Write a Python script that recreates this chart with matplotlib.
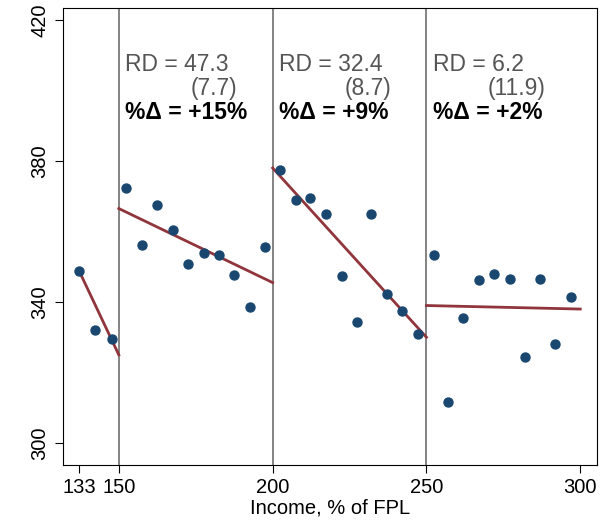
import matplotlib
matplotlib.use("Agg")
import matplotlib.pyplot as plt

plt.rcParams['font.family'] = ['Liberation Sans', 'DejaVu Sans']

xs = [137, 142.2, 147.7,
      152.3, 157.5, 162.3, 167.5, 172.4, 177.6, 182.5, 187.3, 192.5, 197.4,
      202.3, 207.5, 212.3, 217.2, 222.4, 227.3, 232.1, 237.3, 242.2, 247.1,
      252.3, 257.1, 262.0, 267.2, 272.1, 277.0, 282.1, 287.0, 291.9, 297.1]
ys = [348.8, 332.1, 329.5,
      372.3, 356.2, 367.5, 360.4, 350.8, 353.9, 353.3, 347.7, 338.6, 355.6,
      377.4, 368.9, 369.5, 365.0, 347.4, 334.3, 365.0, 342.3, 337.4, 330.9,
      353.3, 311.6, 335.5, 346.2, 347.9, 346.5, 324.4, 346.5, 328.1, 341.4]
fit_x = [(137, 150), (150, 200), (200, 250), (250, 300)]
fit_y = [(349, 325), (366.5, 345.5), (378, 330), (339, 338)]
cutoffs = [150, 200, 250]
rd = ["47.3", "32.4", "6.2"]
se = ["(7.7)", "(8.7)", "(11.9)"]
pct = ["+15%", "+9%", "+2%"]
xtick_pos = [137, 150, 200, 250, 300]
xtick_lab = ["133", "150", "200", "250", "300"]

fig = plt.figure(figsize=(6.1, 5.23), dpi=100)
ax = fig.add_axes([0.103, 0.111, 0.876, 0.874])
for c in cutoffs:
    ax.axvline(c, color='#6e6e6e', lw=1.2, zorder=1)
ax.scatter(xs, ys, s=42, color='#1a476f', zorder=3)
for fx, fy in zip(fit_x, fit_y):
    ax.plot(fx, fy, color='#90353b', lw=2, zorder=2)
for c, r, s, p in zip(cutoffs, rd, se, pct):
    ax.text(c + 2, 407.3, "RD = " + r, color='#555555', fontsize=16.5, va='center')
    ax.text(c + 38.6, 400.6, s, color='#555555', fontsize=16.5, va='center', ha='right')
    ax.text(c + 2, 393.6, "%Δ = " + p, color='black', fontsize=16.5, va='center', fontweight='bold')
ax.set_xlim(131.8, 305.5)
ax.set_ylim(293.8, 423.4)
ax.set_xticks(xtick_pos)
ax.set_xticklabels(xtick_lab)
ax.set_yticks([300, 340, 380, 420])
ax.tick_params(axis='both', labelsize=14.5, direction='out', length=6)
for lbl in ax.get_yticklabels():
    lbl.set_rotation(90)
    lbl.set_va('center')
ax.set_xlabel("Income, % of FPL", fontsize=14.5, labelpad=1)
fig.savefig("out.png", dpi=100)
